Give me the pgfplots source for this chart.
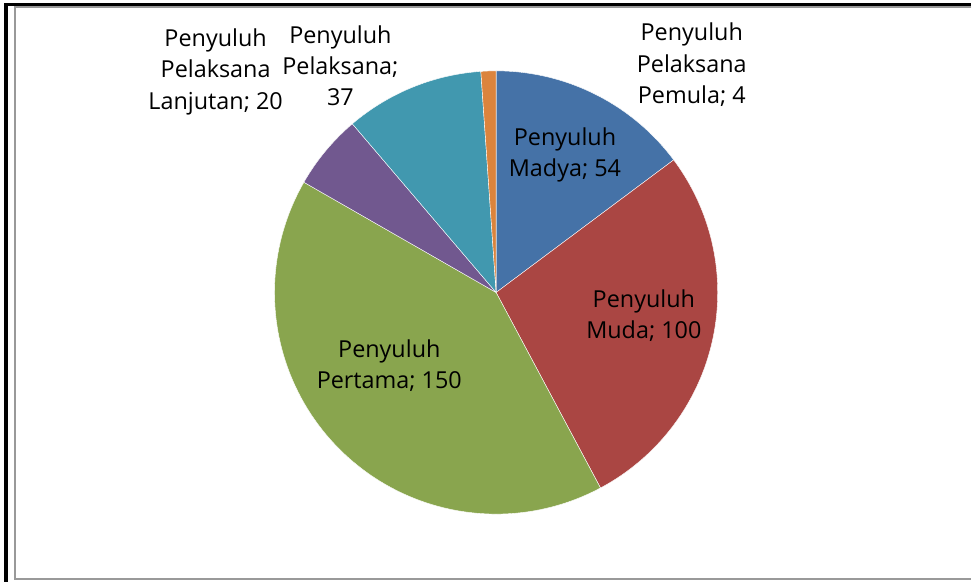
\documentclass[border=0pt]{standalone}
\usepackage{pgfplots}
\pgfplotsset{compat=1.18}
\usepackage{fontspec}
\setmainfont{Open Sans}

\definecolor{cMadya}{HTML}{4572A7}
\definecolor{cMuda}{HTML}{AA4643}
\definecolor{cPertama}{HTML}{89A54E}
\definecolor{cLanjutan}{HTML}{71588F}
\definecolor{cPelaksana}{HTML}{4198AF}
\definecolor{cPemula}{HTML}{DB843D}

% slice values (clockwise from 12 o'clock)
\def\vA{54}   % Madya
\def\vB{100}  % Muda
\def\vC{150}  % Pertama
\def\vD{20}   % Pelaksana Lanjutan
\def\vE{37}   % Pelaksana
\def\vF{4}    % Pelaksana Pemula
\pgfmathsetmacro\total{\vA+\vB+\vC+\vD+\vE+\vF}
\pgfmathsetmacro\aA{90}
\pgfmathsetmacro\aB{\aA-\vA/\total*360}
\pgfmathsetmacro\aC{\aB-\vB/\total*360}
\pgfmathsetmacro\aD{\aC-\vC/\total*360}
\pgfmathsetmacro\aE{\aD-\vD/\total*360}
\pgfmathsetmacro\aF{\aE-\vE/\total*360}
\pgfmathsetmacro\aG{\aF-\vF/\total*360}

\def\cx{497}\def\cy{290}\def\rr{222}

\begin{document}
\begin{tikzpicture}
\begin{axis}[
  width=973bp, height=583bp, scale only axis,
  xmin=0, xmax=973, ymin=0, ymax=583,
  hide axis, clip=false,
  every axis plot/.append style={draw=white, line width=0.4pt, samples=90},
  nodes={font=\fontsize{23.5}{31.5}\selectfont, align=center, text=black},
]
\path[fill=white] (axis cs:0,0) rectangle (axis cs:973,583);

\addplot[fill=cMadya,     domain=\aB:\aA] ({\cx+\rr*cos(x)},{\cy+\rr*sin(x)}) -- (axis cs:\cx,\cy) -- cycle;
\addplot[fill=cMuda,      domain=\aC:\aB] ({\cx+\rr*cos(x)},{\cy+\rr*sin(x)}) -- (axis cs:\cx,\cy) -- cycle;
\addplot[fill=cPertama,   domain=\aD:\aC] ({\cx+\rr*cos(x)},{\cy+\rr*sin(x)}) -- (axis cs:\cx,\cy) -- cycle;
\addplot[fill=cLanjutan,  domain=\aE:\aD] ({\cx+\rr*cos(x)},{\cy+\rr*sin(x)}) -- (axis cs:\cx,\cy) -- cycle;
\addplot[fill=cPelaksana, domain=\aF:\aE] ({\cx+\rr*cos(x)},{\cy+\rr*sin(x)}) -- (axis cs:\cx,\cy) -- cycle;
\addplot[fill=cPemula,    domain=\aG:\aF] ({\cx+\rr*cos(x)},{\cy+\rr*sin(x)}) -- (axis cs:\cx,\cy) -- cycle;

% data labels
\node at (axis cs:566,428) {Penyuluh\\Madya; 54};
\node at (axis cs:645,267) {Penyuluh\\Muda; 100};
\node at (axis cs:390,217) {Penyuluh\\Pertama; 150};
\node at (axis cs:216,511) {Penyuluh\\Pelaksana\\Lanjutan; 20};
\node at (axis cs:341,517) {Penyuluh\\Pelaksana;\\37};
\node at (axis cs:693,518) {Penyuluh\\Pelaksana\\Pemula; 4};

% chart frame
\draw[gray!80, line width=2bp] (axis cs:973,576) -- (axis cs:15,576) -- (axis cs:15,3) -- (axis cs:973,3);
\draw[black, line width=3.5bp] (axis cs:6,0) -- (axis cs:6,578.5) -- (axis cs:973,578.5);
\end{axis}
\end{tikzpicture}
\end{document}
